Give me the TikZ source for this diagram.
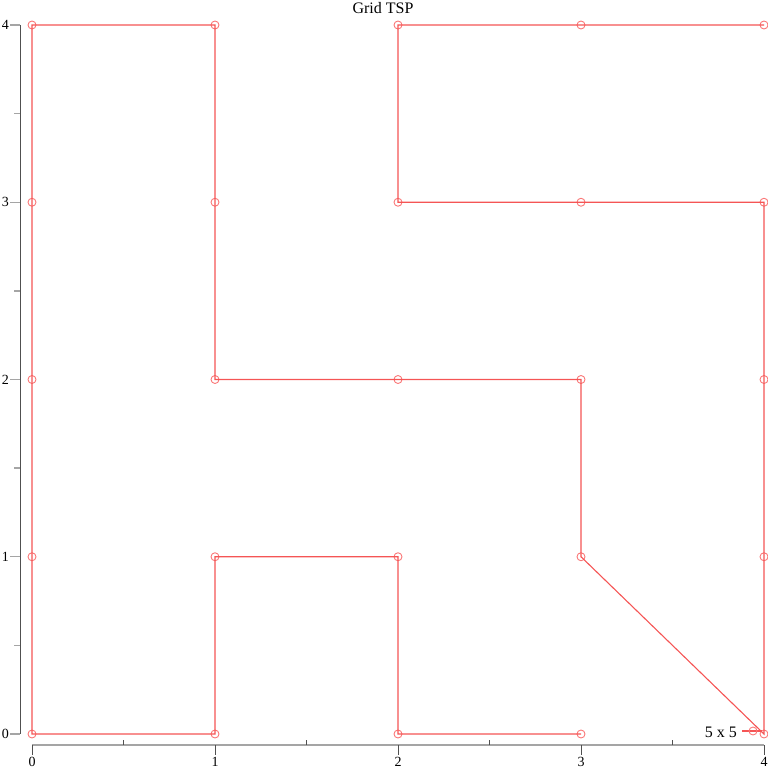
\documentclass[tikz,border=0pt]{standalone}
\usepackage{fontspec}
\setmainfont{Liberation Serif}
\definecolor{tour}{RGB}{245,85,85}
\definecolor{mark}{RGB}{250,120,120}
\definecolor{axdark}{RGB}{80,80,80}
\definecolor{axlight}{RGB}{165,165,165}
\begin{document}
\begin{tikzpicture}[x=1pt,y=-1pt,
  pt/.style={circle,draw=mark,line width=0.9pt,minimum size=8pt,inner sep=0pt},
  tourline/.style={draw=tour,line width=1.1pt},
  ticklab/.style={font=\fontsize{14}{14}\selectfont,inner sep=0pt}]
\useasboundingbox (0,0) rectangle (768,768);
% axes
\draw[axdark,line width=1pt] (20,25) -- (20,734);
\draw[axlight,line width=2pt] (32,745) -- (764,745);
\foreach \j in {0,1,2,3,4}{
  \pgfmathsetmacro{\yy}{734-177.25*\j}
  \draw[axlight,line width=1.4pt] (10,\yy) -- (20,\yy);
  \node[ticklab,anchor=east] (yl\j) at (9,\yy) {\j};
}
\foreach \j in {0.5,1.5,2.5,3.5}{
  \pgfmathsetmacro{\yy}{734-177.25*\j}
  \draw[axlight,line width=1.4pt] (14,\yy) -- (20,\yy);
}
\foreach \i in {0,1,2,3,4}{
  \pgfmathsetmacro{\xx}{32+183*\i}
  \draw[axdark,line width=1pt] (\xx,745) -- (\xx,755);
  \node[ticklab,anchor=base] (xl\i) at (\xx,766) {\i};
}
\foreach \i in {0.5,1.5,2.5,3.5}{
  \pgfmathsetmacro{\xx}{32+183*\i}
  \draw[axdark,line width=1pt] (\xx,745) -- (\xx,740);
}
% title
\node[font=\fontsize{16}{16}\selectfont,inner sep=0pt,anchor=base] (title) at (383,14) {Grid TSP};
% points
\foreach \i in {0,1,2,3,4}{
  \foreach \j in {0,1,2,3,4}{
    \pgfmathsetmacro{\xx}{32+183*\i}
    \pgfmathsetmacro{\yy}{734-177.25*\j}
    \node[pt] (c\i\j) at (\xx,\yy) {};
  }
}
% tour
\draw[tourline] (c30.center) -- (c20.center) -- (c21.center) -- (c11.center) -- (c10.center) -- (c00.center) -- (c04.center) -- (c14.center) -- (c12.center) -- (c32.center) -- (c31.center) -- (c40.center) -- (c43.center) -- (c23.center) -- (c24.center) -- (c44.center);
% legend
\node[font=\fontsize{16}{16}\selectfont,inner sep=0pt,anchor=base east] (leg) at (737,737) {5 x 5};
\coordinate (la) at (742,731);
\coordinate (lb) at (762,731);
\draw[tourline] (la) -- (lb);
\node[pt] (lp) at (753,731) {};
\end{tikzpicture}
\end{document}
